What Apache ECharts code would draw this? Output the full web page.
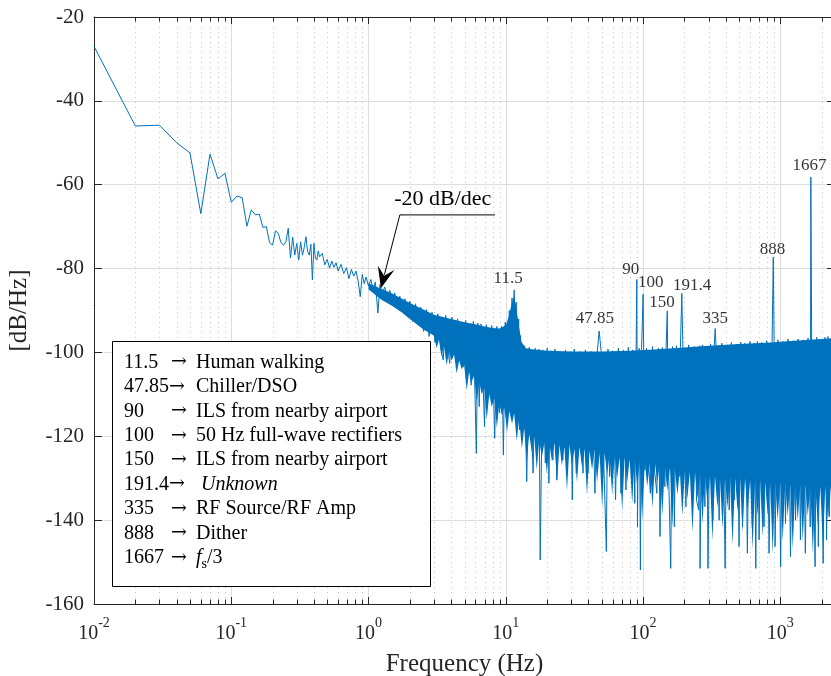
<!DOCTYPE html>
<html><head><meta charset="utf-8">
<script src="https://cdn.jsdelivr.net/npm/echarts@6/dist/echarts.min.js"></script>
<style>html,body{margin:0;padding:0;background:#fff;overflow:hidden}#c{width:831px;height:676px}</style>
</head><body><div id="c"></div>
<script>
// ---------- data ----------
// low-frequency part of the PSD trace: [Hz, dB/Hz]
const lowSpectrum = [[0.01,-27.0],[0.02,-46.0],[0.03,-45.8],[0.04,-50.0],[0.05,-52.4],[0.06,-66.9],[0.07,-52.7],[0.08,-58.6],[0.09,-57.3],[0.10,-64.2],[0.11,-62.7],[0.12,-63.1],[0.13,-69.9],[0.14,-66.0],[0.15,-67.2],[0.16,-67.0],[0.17,-70.2],[0.18,-70.0],[0.19,-73.8],[0.20,-74.4],[0.21,-71.0],[0.22,-71.6],[0.23,-73.8],[0.24,-74.4],[0.25,-73.6],[0.26,-70.4],[0.27,-77.5]];
// mid-frequency trace
const midSpectrum = [[0.28,-72.5],[0.29,-76.8],[0.30,-74.0],[0.31,-78.0],[0.32,-73.6],[0.33,-76.8],[0.34,-75.0],[0.35,-72.4],[0.36,-76.0],[0.37,-76.8],[0.38,-74.2],[0.39,-82.7],[0.40,-74.0],[0.41,-77.5],[0.42,-78.0],[0.43,-75.8],[0.44,-77.2],[0.46,-76.4],[0.48,-79.1],[0.50,-77.8],[0.52,-79.9],[0.54,-78.2],[0.56,-79.7],[0.58,-78.6],[0.60,-80.6],[0.63,-79.0],[0.66,-81.2],[0.69,-79.8],[0.72,-82.4],[0.75,-80.2],[0.78,-81.8],[0.81,-80.6],[0.84,-83.0],[0.87,-86.7],[0.90,-81.4],[0.93,-83.6],[0.96,-82.0],[1.00,-84.2],[1.04,-82.6],[1.08,-85.0],[1.12,-83.2],[1.17,-90.6],[1.21,-83.8],[1.26,-86.0],[1.31,-84.4],[1.37,-87.0],[1.43,-85.2],[1.49,-88.0],[1.55,-85.8],[1.62,-89.2],[1.69,-86.6],[1.76,-90.0],[1.84,-87.2],[1.92,-91.0],[2.00,-87.8],[2.10,-92.6],[2.20,-88.4],[2.30,-93.4],[2.40,-89.2],[2.52,-95.0],[2.64,-89.8],[2.76,-96.2],[2.90,-90.4],[3.05,-97.6],[3.20,-90.8],[3.35,-98.8],[3.50,-101.8],[3.65,-91.2],[3.80,-99.6],[3.90,-102.6],[4.05,-91.6],[4.25,-100.4],[4.45,-92.0],[4.65,-101.0],[4.90,-103.4],[5.10,-92.4],[5.35,-102.0],[5.60,-107.8],[5.80,-92.6],[6.10,-124.1],[6.25,-93.0],[6.40,-112.9],[6.60,-93.2],[7.00,-117.7],[7.20,-93.4],[7.60,-106.6],[7.90,-93.6],[8.30,-120.5],[8.60,-93.8],[9.00,-114.4],[9.30,-93.8],[9.60,-124.5],[9.90,-92.8],[10.30,-116.8],[10.6,-90.0],[10.9,-106.0],[11.1,-87.0],[11.3,-103.0],[11.5,-85.1],[11.7,-100.0],[11.9,-88.0],[12.2,-108.0],[12.4,-92.0],[12.6,-118.5],[12.8,-96.0],[13.2,-120.9],[13.6,-98.4],[14.2,-130.8],[14.8,-98.8],[15.8,-128.8],[16.4,-99.0],[17.0,-122.1],[17.4,-99.2],[17.8,-149.5],[18.6,-99.4],[19.4,-126.4],[20.0,-99.0],[20.6,-131.2],[21.3,-99.6],[22.0,-125.7],[22.8,-99.2],[23.5,-130.4],[24.8,-99.8],[26.0,-125.7],[27.2,-99.4],[28.5,-124.1],[29.5,-99.8],[30.5,-135.2],[31.5,-99.2],[32.6,-128.8],[34.5,-99.8],[36.5,-128.8],[38.0,-99.4],[39.6,-128.8],[42.0,-99.8],[44.6,-133.6],[46.5,-99.4],[47.85,-94.9],[49.5,-99.8],[51.5,-124.0],[54.0,-147.5],[55.5,-99.2],[57.0,-129.6],[60.0,-99.6],[63.0,-135.2],[66.0,-99.0],[69.0,-133.6],[72.0,-99.4],[75.0,-132.8],[78.0,-98.8],[81.0,-126.0],[84.0,-99.4],[87.0,-136.0],[89.0,-99.0]];
// high-frequency trace with spectral lines
const highSpectrum = [[90.0,-82.6],[91.0,-141.6],[93.5,-99.0],[95.6,-151.9],[97.5,-99.2],[100.0,-86.1],[103,-128.0],[106,-99.0],[110,-127.0],[113,-133.6],[117,-98.6],[121,-128.0],[126,-133.6],[129,-99.0],[132.8,-143.9],[138,-98.8],[144,-132.0],[147,-99.0],[150,-90.1],[153,-127.0],[159,-151.5],[164,-98.6],[169,-141.6],[175,-98.4],[183,-129.6],[187,-98.8],[191.4,-85.9],[195,-99.0],[205,-136.8],[215,-98.2],[227,-133.6],[236,-98.6],[245,-135.2],[254,-137.6],[257,-98.4],[260,-151.5],[270,-98.2],[282,-136.8],[290,-98.6],[297,-151.5],[310,-98.0],[322,-140.0],[330,-98.4],[335,-94.3],[340,-98.6],[358,-140.0],[375,-97.8],[396,-151.5],[410,-98.2],[424,-137.6],[440,-97.6],[461,-135.2],[480,-98.0],[500,-146.3],[515,-97.6],[530,-141.6],[550,-97.8],[575,-147.9],[600,-97.4],[625,-141.6],[645,-97.8],[662,-151.5],[680,-97.4],[700,-144.7],[730,-97.6],[760,-141.6],[795,-97.2],[827,-147.9],[870,-97.6],[888,-77.3],[900,-97.4],[915,-146.3],[960,-97.0],[1005,-151.1],[1045,-97.4],[1090,-140.8],[1135,-96.8],[1185,-148.7],[1240,-97.2],[1290,-140.0],[1345,-96.8],[1400,-144.7],[1460,-97.0],[1520,-147.9],[1590,-96.6],[1650,-141.6],[1667,-58.2],[1690,-96.8],[1790,-151.1],[1840,-96.4],[1890,-146.3],[1970,-96.8],[2050,-150.3],[2110,-96.4],[2170,-144.7],[2220,-96.2],[2270,-139.2],[2350,-96.6],[2420,-142.0],[2500,-96.2]];
// dense noise band: upper edge and ragged lower edge of the solid part
const bandTopEdge = [[1,-83.5],[1.5,-86],[2,-88.2],[3,-91],[4,-92],[5,-92.8],[6,-93.3],[7,-93.8],[8,-94.2],[9,-94.3],[10,-93.5],[10.5,-91.5],[11,-88.5],[11.5,-86.5],[12,-90],[12.5,-94],[13,-97.5],[14,-99],[16,-99.3],[20,-99.6],[30,-99.8],[50,-99.8],[80,-99.6],[120,-99.3],[200,-98.8],[300,-98.4],[500,-98],[800,-97.7],[1200,-97.3],[2000,-96.8],[2500,-96.6]];
const bandBottomEdge = [[1,-85],[1.25,-87.5],[1.5,-89],[1.75,-90.5],[2,-92],[2.5,-94.5],
 [3.00,-96],[3.13,-99],[3.26,-97],[3.40,-101],[3.55,-98.5],[3.70,-103],[3.86,-100],[4.03,-102],[4.20,-100.5],[4.38,-105],[4.57,-102],[4.77,-104],[4.97,-103],[5.19,-109],[5.41,-104.5],[5.64,-107],[5.88,-105.5],[6.14,-112],[6.40,-107],[6.68,-110],[6.96,-108.5],[7.26,-116],[7.58,-110],[7.90,-113],[8.24,-111],[8.60,-118],[8.97,-112],[9.35,-115],[9.75,-113],[10.2,-119],[10.6,-114],[11.1,-117],[11.5,-114.5],[12.0,-121],[12.5,-116],[13.1,-123],[13.6,-118],[14.2,-126],[14.8,-119.5],[15.5,-124],[16.1,-120],[16.8,-128],[17.5,-121],[18.3,-125],[19.1,-121.5],[19.9,-129],[20.8,-122],[21.7,-126],[22.6,-121.5],[23.6,-131],[24.6,-122],[25.6,-127],[26.7,-122.5],[27.9,-133],[29.1,-122],[30.3,-127],[31.6,-123],[33.0,-131],[34.4,-122.5],[35.9,-127.5],[37.4,-123],[39.0,-134],[40.7,-123.5],[42.5,-128],[44.3,-123],[46.2,-131],[48.2,-124],[50.3,-137],[52.4,-124],[54.7,-129],[57.0,-124.5],[59.5,-134],[62.0,-124.5],[64.7,-130],[67.5,-125],[70.4,-138],[73.4,-125],[76.5,-131],[79.8,-125.5],[83.3,-136],[86.8,-125.5],[90.6,-132],[94.5,-126],[98.5,-140],
 [103,-126],[107,-132],[112,-126.5],[117,-137],[122,-126.5],[127,-131],[132,-127],[138,-139],[144,-127],[150,-133],[157,-127.5],[163,-142],[170,-127.5],[178,-134],[185,-128],[193,-139],[202,-128],[210,-135],[219,-128.5],[229,-143],[239,-128.5],[249,-135],[260,-129],[271,-141],[282,-129],[294,-136],[307,-129.5],[320,-145],[334,-129.5],[348,-137],[363,-130],[379,-142],[395,-130],[412,-137],[430,-130],[448,-146],[468,-130],[488,-138],[509,-130],[530,-143],[553,-130],[577,-138],[602,-130.5],[628,-147],[655,-130.5],[683,-139],[712,-130.5],[743,-144],[775,-131],[808,-139],[843,-131],[879,-148],[917,-131],[956,-140],[997,-131],[1040,-145],[1085,-131],[1131,-139],[1180,-131.5],[1231,-147],[1284,-131.5],[1339,-140],[1396,-131.5],[1456,-145],[1519,-131.5],[1584,-139],[1652,-132],[1723,-148],[1797,-132],[1874,-141],[1955,-132],[2039,-146],[2126,-132],[2218,-140],[2313,-132],[2413,-147],[2500,-132]];
// peak annotations (text centre in data coordinates)
const peakText = ['11.5','47.85','90','100','150','191.4','335','888','1667'];
const peakTextHz = [10.4, 44.6, 81.2, 113.6, 137.5, 227.5, 336, 877, 1632];
const peakTextDb = [-82.3, -91.9, -80.3, -83.4, -88.2, -84.0, -91.9, -75.5, -55.4];
// legend box rows
const legendNum  = ['11.5','47.85','90','100','150','191.4','335','888','1667'];
const legendDesc = ['Human walking','Chiller/DSO','ILS from nearby airport','50 Hz full-wave rectifiers','ILS from nearby airport','{it|Unknown}','RF Source/RF Amp','Dither','{it|f}{sub|s}{n|/3}'];
// slope annotation (data coordinates)
const slopeLabel = '-20 dB/dec';
const slopeTip = [1.23, -84.7];
const slopeElbow = [1.69, -67.2];
const slopeEnd = [8.33, -67.2];
const slopeTextPos = [3.47, -63.5];

// ---------- chart ----------
const BLUE = '#0072BD', AX = '#262626', FONT = 'Liberation Serif';
const spectrum = lowSpectrum.concat(midSpectrum, highSpectrum);
const minorVals = [];
for (let e = -2; e <= 3; e++) for (let m = 2; m <= 9; m++) { const v = +(m * Math.pow(10, e)).toPrecision(3); if (v < 2500) minorVals.push(v); }

const chart = echarts.init(document.getElementById('c'), null, {renderer: 'canvas'});
const option = {
  animation: false,
  backgroundColor: '#fff',
  grid: {left: 94, top: 17, width: 741, height: 587, containLabel: false, outerBoundsMode: 'none'},
  xAxis: [{
    type: 'log', logBase: 10, min: 0.01, max: 2500, position: 'bottom',
    axisLine: {lineStyle: {color: AX, width: 1}},
    axisTick: {inside: true, length: 7, lineStyle: {color: AX}},
    axisLabel: {
      margin: 12, showMaxLabel: false,
      formatter: v => { const e = Math.round(Math.log10(v)); if (Math.abs(Math.pow(10, e) - v) / v > 1e-6) return ''; return '{b|10}{s|' + e + '}'; },
      rich: {b: {fontFamily: FONT, fontSize: 20, color: AX, lineHeight: 28, verticalAlign: 'bottom'},
             s: {fontFamily: FONT, fontSize: 14, color: AX, lineHeight: 14, verticalAlign: 'top'}}
    },
    splitLine: {show: true, lineStyle: {color: '#dedede', width: 1}},
    name: 'Frequency (Hz)', nameLocation: 'middle', nameGap: 48,
    nameTextStyle: {fontFamily: FONT, fontSize: 25, color: AX}
  }, {
    type: 'log', logBase: 10, min: 0.01, max: 2500, position: 'top',
    axisLine: {lineStyle: {color: AX, width: 1}},
    axisTick: {inside: true, length: 7, lineStyle: {color: AX}},
    axisLabel: {show: false}, splitLine: {show: false}
  }],
  yAxis: [{
    type: 'value', min: -160, max: -20, interval: 20,
    axisLine: {show: true, lineStyle: {color: AX, width: 1}},
    axisTick: {show: true, inside: true, length: 8, lineStyle: {color: AX}},
    axisLabel: {margin: 10, fontFamily: FONT, fontSize: 21, color: AX},
    splitLine: {show: true, lineStyle: {color: '#dedede', width: 1}},
    name: '[dB/Hz]', nameLocation: 'middle', nameGap: 62,
    nameTextStyle: {fontFamily: FONT, fontSize: 25, color: AX}
  }, {
    type: 'value', min: -160, max: -20, interval: 20, position: 'right',
    axisLine: {show: true, lineStyle: {color: AX, width: 1}},
    axisTick: {show: true, inside: true, length: 8, lineStyle: {color: AX}},
    axisLabel: {show: false}, splitLine: {show: false}
  }],
  series: [{
    type: 'custom', coordinateSystem: 'cartesian2d', silent: true, z: 1, clip: false,
    data: minorVals.map(v => [v, -90]), encode: {x: 0, y: 1},
    renderItem: (params, api) => {
      const cs = params.coordSys;
      const x = Math.round(api.coord([api.value(0), -90])[0]) + 0.5;
      const b = cs.y + cs.height, t = cs.y;
      return {type: 'group', children: [
        {type: 'line', shape: {x1: x, y1: t, x2: x, y2: b}, style: {stroke: '#c6c6c6', lineWidth: 1, lineDash: [1, 4]}},
        {type: 'line', shape: {x1: x, y1: b, x2: x, y2: b - 4.5}, style: {stroke: AX, lineWidth: 1}},
        {type: 'line', shape: {x1: x, y1: t, x2: x, y2: t + 4.5}, style: {stroke: AX, lineWidth: 1}}
      ]};
    }
  }, {
    type: 'custom', coordinateSystem: 'cartesian2d', silent: true, z: 2,
    data: [bandTopEdge[0]], encode: {x: 0, y: 1},
    renderItem: (params, api) => {
      const pts = [];
      for (let i = 0; i < bandTopEdge.length; i++) pts.push(api.coord(bandTopEdge[i]));
      for (let i = bandBottomEdge.length - 1; i >= 0; i--) pts.push(api.coord(bandBottomEdge[i]));
      return {type: 'polygon', shape: {points: pts}, style: {fill: BLUE}};
    }
  }, {
    type: 'line', data: spectrum, showSymbol: false, symbol: 'none', silent: true, z: 3,
    lineStyle: {color: BLUE, width: 1}, itemStyle: {color: BLUE}
  }, {
    type: 'scatter', silent: true, z: 5, symbolSize: 1,
    itemStyle: {color: 'rgba(0,0,0,0)'},
    data: peakText.map((t, i) => ({name: t, value: [peakTextHz[i], peakTextDb[i]]})),
    label: {show: true, position: 'inside', formatter: '{b}', fontFamily: FONT, fontSize: 17, color: '#000'}
  }]
};
chart.setOption(option);

// ---------- annotations ----------
const P = d => chart.convertToPixel({gridIndex: 0}, d);
const tip = P(slopeTip), elbow = P(slopeElbow), end = P(slopeEnd), tpos = P(slopeTextPos);
let ux = tip[0] - elbow[0], uy = tip[1] - elbow[1];
const L = Math.hypot(ux, uy); ux /= L; uy /= L;
const nx = -uy, ny = ux;
const head = [tip,
  [tip[0] - 21 * ux + 8.5 * nx, tip[1] - 21 * uy + 8.5 * ny],
  [tip[0] - 13 * ux, tip[1] - 13 * uy],
  [tip[0] - 21 * ux - 8.5 * nx, tip[1] - 21 * uy - 8.5 * ny]];
const graphics = [
  {type: 'polyline', z: 50, silent: true, shape: {points: [end, elbow, [tip[0] - 14 * ux, tip[1] - 14 * uy]]}, style: {stroke: '#000', lineWidth: 1, fill: null}},
  {type: 'polygon', z: 50, silent: true, shape: {points: head}, style: {fill: '#000'}},
  {type: 'text', z: 50, silent: true, x: tpos[0], y: tpos[1], style: {text: slopeLabel, fontFamily: FONT, fontSize: 22, fill: '#000', align: 'center', verticalAlign: 'middle'}},
  {type: 'rect', z: 50, silent: true, shape: {x: 112.5, y: 341.5, width: 318, height: 245}, style: {fill: '#fff', stroke: '#000', lineWidth: 1}}
];
const rich = {
  it: {fontFamily: FONT, fontSize: 20, fontStyle: 'italic', fill: '#000', lineHeight: 28, verticalAlign: 'middle'},
  sub: {fontFamily: FONT, fontSize: 14, fill: '#000', lineHeight: 28, verticalAlign: 'bottom'},
  n: {fontFamily: FONT, fontSize: 20, fill: '#000', lineHeight: 28, verticalAlign: 'middle'}
};
legendNum.forEach((num, i) => {
  const yc = 362.5 + i * 24.4;
  const tight = num.length >= 5;
  graphics.push({type: 'text', z: 51, silent: true, x: 124, y: yc, style: {text: num, fontFamily: FONT, fontSize: 20, fill: '#000', align: 'left', verticalAlign: 'middle'}});
  graphics.push({type: 'text', z: 51, silent: true, x: tight ? 169 : 171, y: yc, style: {text: '\u2192', fontFamily: 'DejaVu Serif', fontSize: 19, fill: '#000', align: 'left', verticalAlign: 'middle'}});
  const desc = legendDesc[i];
  const dx = desc.indexOf('{it|Unknown') === 0 ? 201 : 196;
  graphics.push({type: 'text', z: 51, silent: true, x: dx, y: yc, style: {text: desc, rich: rich, fontFamily: FONT, fontSize: 20, fill: '#000', align: 'left', verticalAlign: 'middle'}});
});
chart.setOption({graphic: graphics});
</script></body></html>
